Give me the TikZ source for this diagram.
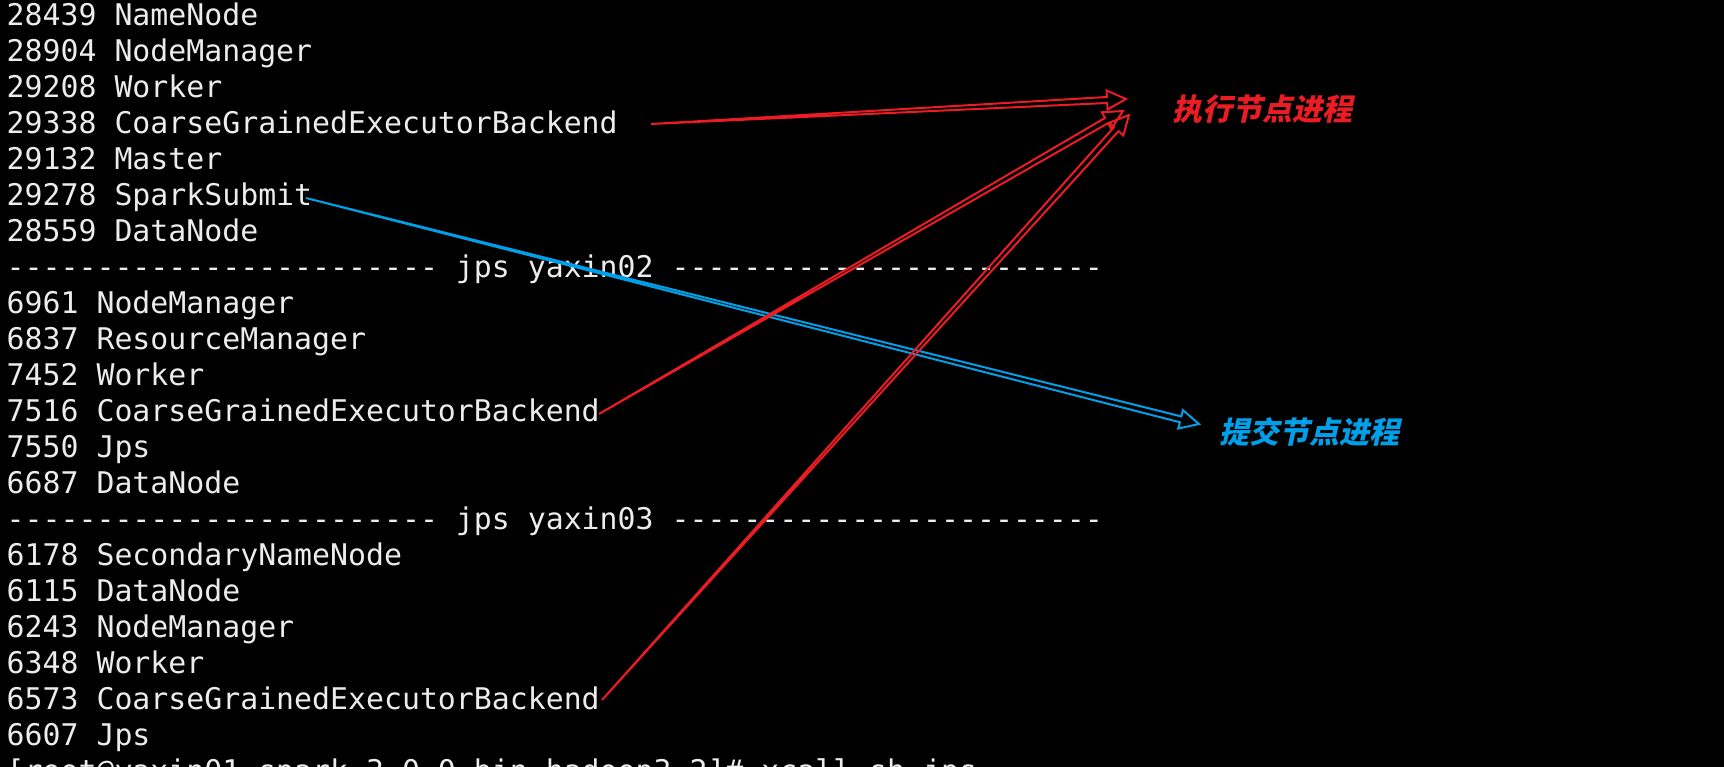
\documentclass[tikz,border=0pt]{standalone}
\usepackage{fontspec}
\setmonofont{DejaVu Sans Mono}
\newfontfamily\cjk[FakeSlant=0.22]{Noto Sans CJK SC}
\usetikzlibrary{calc}
\definecolor{termtext}{RGB}{236,236,236}
\definecolor{exred}{RGB}{236,28,36}
\definecolor{subblue}{RGB}{0,160,233}
\tikzset{
  term/.style={anchor=base west, inner sep=0pt, text=termtext,
    font=\ttfamily\fontsize{29.85}{36}\selectfont},
  lab/.style={inner sep=0pt, font=\cjk\bfseries\fontsize{30}{35}\selectfont},
  hollow/.style={line width=2pt, line join=miter, miter limit=10}
}
\newcommand\hollowarrow[3]{%
  \coordinate (hb) at ($(#3)!19pt!(#2)$);
  \draw[hollow, #1] (#2) -- ($(hb)!3pt!90:(#3)$) -- ($(hb)!9.5pt!90:(#3)$)
    -- (#3) -- ($(hb)!9.5pt!-90:(#3)$) -- ($(hb)!3pt!-90:(#3)$) -- cycle;
}
\begin{document}
\begin{tikzpicture}[x=1pt,y=-1pt]
\useasboundingbox (0,0) rectangle (1724,767);
\fill[black] (0,0) rectangle (1724,767);
\clip (0,0) rectangle (1724,767);
% terminal lines
\node[term] (l1)  at (6.5,25.3)  {28439 NameNode};
\node[term] (l2)  at (6.5,61.3)  {28904 NodeManager};
\node[term] (l3)  at (6.5,97.3)  {29208 Worker};
\node[term] (l4)  at (6.5,133.3) {29338 CoarseGrainedExecutorBackend};
\node[term] (l5)  at (6.5,169.3) {29132 Master};
\node[term] (l6)  at (6.5,205.3) {29278 SparkSubmit};
\node[term] (l7)  at (6.5,241.3) {28559 DataNode};
\node[term] (l8)  at (6.5,277.3) {------------------------ jps yaxin02 ------------------------};
\node[term] (l9)  at (6.5,313.3) {6961 NodeManager};
\node[term] (l10) at (6.5,349.3) {6837 ResourceManager};
\node[term] (l11) at (6.5,385.3) {7452 Worker};
\node[term] (l12) at (6.5,421.3) {7516 CoarseGrainedExecutorBackend};
\node[term] (l13) at (6.5,457.3) {7550 Jps};
\node[term] (l14) at (6.5,493.3) {6687 DataNode};
\node[term] (l15) at (6.5,529.3) {------------------------ jps yaxin03 ------------------------};
\node[term] (l16) at (6.5,565.3) {6178 SecondaryNameNode};
\node[term] (l17) at (6.5,601.3) {6115 DataNode};
\node[term] (l18) at (6.5,637.3) {6243 NodeManager};
\node[term] (l19) at (6.5,673.3) {6348 Worker};
\node[term] (l20) at (6.5,709.3) {6573 CoarseGrainedExecutorBackend};
\node[term] (l21) at (6.5,745.3) {6607 Jps};
\node[term] (l22) at (6.5,781.3) {[root@yaxin01 spark-3.0.0-bin-hadoop3.2]\# xcall.sh jps};
% labels
\node[lab, text=exred] (exec) at (1262,109) {执行节点进程};
\node[lab, text=subblue] (subm) at (1309,432) {提交节点进程};
% arrow ends
\coordinate (s1) at (651,124);
\coordinate (s2) at (599,414);
\coordinate (s3) at (602,700);
\coordinate (sb) at (306,198);
\coordinate (t1) at (1126,99);
\coordinate (t2) at (1123,111);
\coordinate (t3) at (1129,115);
\coordinate (tb) at (1199,424);
% arrows
\hollowarrow{subblue}{sb}{tb}
\hollowarrow{exred}{s1}{t1}
\hollowarrow{exred}{s2}{t2}
\hollowarrow{exred}{s3}{t3}
\end{tikzpicture}
\end{document}
